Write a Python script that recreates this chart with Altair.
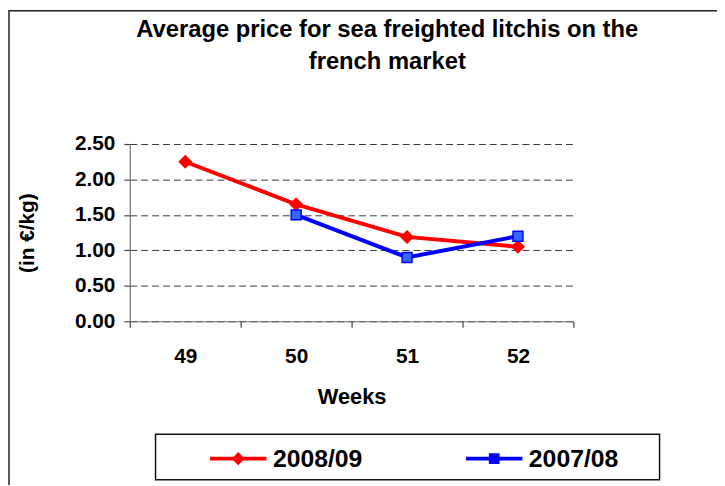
import altair as alt
import pandas as pd

weeks = ["49", "50", "51", "52"]
series_names = ["2008/09", "2007/08"]
price_2008_09 = [2.25, 1.65, 1.19, 1.05]
weeks_2007_08 = ["50", "51", "52"]
price_2007_08 = [1.50, 0.90, 1.20]

rows = []
for w, p in zip(weeks, price_2008_09):
    rows.append({"week": w, "series": series_names[0], "price": p})
for w, p in zip(weeks_2007_08, price_2007_08):
    rows.append({"week": w, "series": series_names[1], "price": p})
df = pd.DataFrame(rows)

FONT = "Liberation Sans"
RED = "#FF0000"
BLUE = "#0000FF"
BLUE_FILL = "#3366FF"

x_enc = alt.X(
    "week:N",
    sort=weeks,
    scale=alt.Scale(type="band", paddingInner=0, paddingOuter=0),
    axis=alt.Axis(
        title="Weeks", labelAngle=0, tickBand="extent", tickSize=6,
        labelPadding=19, titleY=76, titleBaseline="middle",
        titleFontSize=22, grid=False,
    ),
)
y_enc = alt.Y(
    "price:Q",
    scale=alt.Scale(domain=[0, 2.5], nice=False, zero=True),
    axis=alt.Axis(
        title="(in €/kg)", values=[0, 0.5, 1, 1.5, 2, 2.5], format=".2f",
        tickSize=6, labelPadding=9, titleX=-103, titleY=89.5,
        titleAngle=270, titleAlign="center", titleBaseline="middle",
        titleFontSize=21, grid=True, gridDash=[7, 4], gridColor="#3a3a3a",
    ),
)

base = alt.Chart(df)

red_df = base.transform_filter(alt.datum.series == series_names[0])
blue_df = base.transform_filter(alt.datum.series == series_names[1])

line_red = red_df.mark_line(color=RED, strokeWidth=4).encode(x=x_enc, y=y_enc)
line_blue = blue_df.mark_line(color=BLUE, strokeWidth=4).encode(x=x_enc, y=y_enc)
pts_red = red_df.mark_point(shape="diamond", filled=True, color=RED, size=200, opacity=1).encode(x=x_enc, y=y_enc)
pts_blue = blue_df.mark_point(shape="square", filled=True, fill=BLUE_FILL, stroke=BLUE,
                              strokeWidth=1.5, size=100, opacity=1).encode(x=x_enc, y=y_enc)

path_red = "M-4.75,-0.33L4.75,-0.33L4.75,0.33L-4.75,0.33Z M0,-1.1L1.1,0L0,1.1L-1.1,0Z"
path_blue = "M-4.75,-0.33L4.75,-0.33L4.75,0.33L-4.75,0.33Z M-0.9,-0.9L0.9,-0.9L0.9,0.9L-0.9,0.9Z"

legend_layer = base.mark_point(filled=True, size=0, opacity=1).encode(
    x=x_enc, y=y_enc,
    color=alt.Color("series:N", scale=alt.Scale(domain=series_names, range=[RED, BLUE]),
                    legend=alt.Legend(
                        title=None, orient="none", legendX=97, legendY=305,
                        direction="horizontal", columns=2, columnPadding=104.5,
                        labelOffset=22.5, symbolSize=144, symbolStrokeWidth=0,
                        symbolOpacity=1, labelFontSize=25, labelFont=FONT,
                        labelFontWeight="bold", labelColor="black", padding=0,
                    )),
    shape=alt.Shape("series:N", scale=alt.Scale(domain=series_names, range=[path_red, path_blue])),
)

frame_df = alt.Chart(pd.DataFrame({"k": [0]}))
frame = frame_df.mark_rect(fillOpacity=0, stroke="#222222", strokeWidth=1.5).encode(
    x=alt.value(-122), x2=alt.value(800), y=alt.value(-134.5), y2=alt.value(700))
legend_box = frame_df.mark_rect(fillOpacity=0, stroke="#111111", strokeWidth=1.5).encode(
    x=alt.value(26), x2=alt.value(535), y=alt.value(293), y2=alt.value(339))

chart = alt.layer(
    frame, legend_box, line_red, line_blue, pts_red, pts_blue, legend_layer
).properties(
    width=448, height=179,
    autosize=alt.AutoSizeParams(type="none"),
    padding={"left": 123, "top": 135, "right": 145, "bottom": 163},
    title=alt.TitleParams(
        text=["Average price for sea freighted litchis on the", "french market"],
        anchor="middle", frame="group", dx=36, offset=-64.25, lineHeight=32,
        fontSize=24, font=FONT, fontWeight="bold", color="black",
    ),
).configure_view(stroke=None).configure_axis(
    labelFont=FONT, labelFontWeight="bold", labelFontSize=21, labelColor="black",
    titleFont=FONT, titleFontWeight="bold", titleColor="black",
    domainColor="#707070", tickColor="#404040", domainWidth=1.2, tickWidth=1.2,
)

chart.save("out.html", embed_options={"renderer": "svg", "actions": False})
